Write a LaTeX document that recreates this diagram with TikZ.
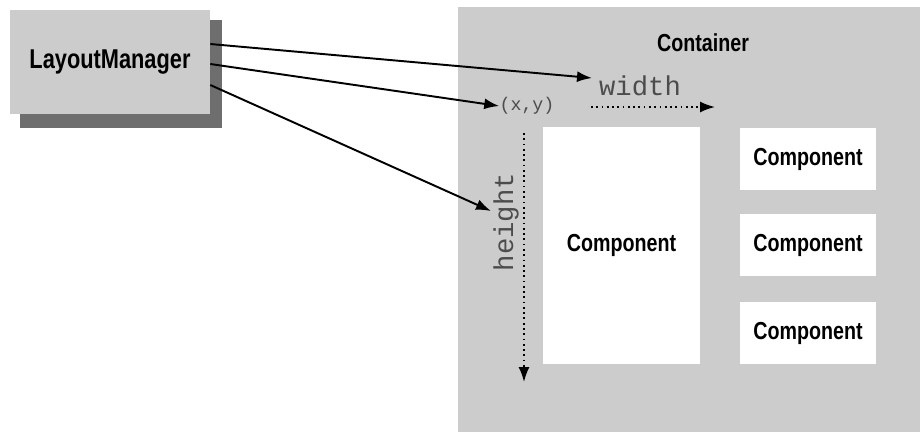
\documentclass[tikz,border=0pt]{standalone}
\usepackage{fontspec}
\setsansfont{Liberation Sans}[FakeStretch=0.8]
\setmonofont{Liberation Mono}
\usepackage{tikz}
\usetikzlibrary{positioning,arrows.meta}
\definecolor{panelgray}{HTML}{CCCCCC}
\definecolor{shadowgray}{HTML}{6E6E6E}

\tikzset{
    lmbox/.style={fill=panelgray, minimum width=4cm, minimum height=2.1cm, inner sep=0pt, font=\sffamily\bfseries\fontsize{15.5}{18}\selectfont},
    compbox/.style={fill=white, inner sep=0pt, font=\sffamily\bfseries\fontsize{14}{16}\selectfont},
    monolabel/.style={font=\ttfamily\fontsize{15.5}{18}\selectfont, inner sep=0pt, text=black!70},
    dotarrow/.style={-{Latex[length=3mm,width=2.2mm]}, line width=1pt, dotted},
    callarrow/.style={-{Latex[length=3mm,width=2.2mm]}, line width=1.1pt}
}

\begin{document}
\begin{tikzpicture}[x=0.02cm, y=-0.02cm]
    \useasboundingbox (0,0) rectangle (920,441);
    % container panel
    \fill[panelgray] (458,7) rectangle (920,432);
    \node[font=\sffamily\bfseries\fontsize{14}{16}\selectfont] (cont) at (703,43) {Container};

    % layout manager with its shadow
    \fill[shadowgray] (20,20) rectangle (222,128);
    \node[lmbox] (lm) at (110,62) {LayoutManager};

    % components
    \node[compbox, minimum width=3.14cm, minimum height=4.74cm] (big) at (621.5,245.5) {Component};
    \node[compbox, minimum width=2.72cm, minimum height=1.24cm] (c1) at (808,159) {Component};
    \node[compbox, minimum width=2.72cm, minimum height=1.24cm] (c2) at (808,245) {Component};
    \node[compbox, minimum width=2.72cm, minimum height=1.24cm] (c3) at (808,333) {Component};

    % origin, width and height
    \node[monolabel, font=\ttfamily\fontsize{10.4}{12}\selectfont] (xy) at (527,106) {(x,y)};
    \node[monolabel] (wlab) at (640,86) {width};
    \node[monolabel, rotate=90] (hlab) at (506,222) {height};
    \coordinate (w0) at (591,107);
    \coordinate (w1) at (715,107);
    \coordinate (h0) at (524,133);
    \coordinate (h1) at (524,382);
    \draw[dotarrow] (w0) -- (w1);
    \draw[dotarrow] (h0) -- (h1);

    % calls from the layout manager
    \coordinate (lm1) at ([yshift=0.36cm]lm.east);
    \coordinate (lm2) at ([yshift=-0.04cm]lm.east);
    \coordinate (lm3) at ([yshift=-0.46cm]lm.east);
    \coordinate (t1) at (592,78);
    \coordinate (t3) at (491,211);
    \draw[callarrow] (lm1) -- (t1);
    \draw[callarrow] (lm2) -- (xy.west);
    \draw[callarrow] (lm3) -- (t3);
\end{tikzpicture}
\end{document}
